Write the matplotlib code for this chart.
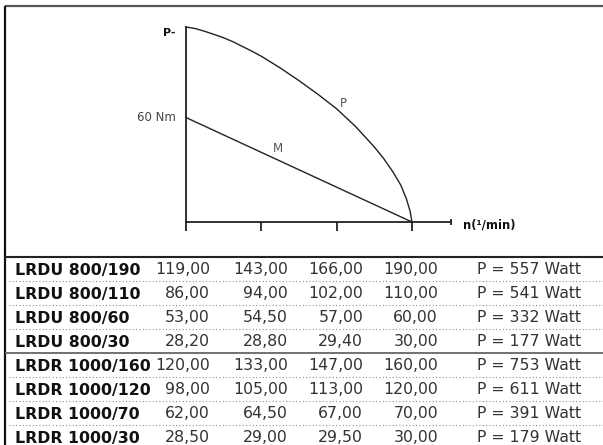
import matplotlib
matplotlib.use("Agg")
import matplotlib.pyplot as plt

# ---- diagram data (schematic) ----
n_ticks = [0, 1, 2, 3]
p_n = [0, 0.125, 0.25, 0.375, 0.5, 0.625, 0.75, 0.875, 1.0, 1.25, 1.5, 1.75,
       2.0, 2.25, 2.5, 2.625, 2.75, 2.85, 2.925, 2.975, 3.0]
p_val = [112, 111.1, 109.5, 107.7, 105.8, 103.5, 100.8, 98.1, 95.2, 88.5, 81.2,
         73.4, 65.0, 54.9, 43.1, 36.4, 28.6, 21.3, 13.4, 6.2, 0]
m_n = [0, 3]
m_val = [60, 0]

# ---- table data ----
models = ["LRDU 800/190", "LRDU 800/110", "LRDU 800/60", "LRDU 800/30",
          "LRDR 1000/160", "LRDR 1000/120", "LRDR 1000/70", "LRDR 1000/30"]
col1 = [119.00, 86.00, 53.00, 28.20, 120.00, 98.00, 62.00, 28.50]
col2 = [143.00, 94.00, 54.50, 28.80, 133.00, 105.00, 64.50, 29.00]
col3 = [166.00, 102.00, 57.00, 29.40, 147.00, 113.00, 67.00, 29.50]
col4 = [190.00, 110.00, 60.00, 30.00, 160.00, 120.00, 70.00, 30.00]
power = [557, 541, 332, 177, 753, 611, 391, 179]

W, H = 603, 445
fig = plt.figure(figsize=(W / 100, H / 100), dpi=100)
plt.rcParams['font.family'] = ['DejaVu Sans']

# full-figure overlay in pixel coordinates for frame + table
bg = fig.add_axes([0, 0, 1, 1])
bg.set_xlim(0, W)
bg.set_ylim(H, 0)
bg.axis("off")

# outer frame
bg.plot([5, W], [6, 6], color="#555555", lw=1.6, solid_capstyle="butt")
bg.plot([5, 5], [6, H], color="#111111", lw=1.6, solid_capstyle="butt")
# table top line
bg.plot([5, W], [256.5, 256.5], color="#222222", lw=1.5, solid_capstyle="butt")

# ---- diagram ----
x_max = 3.518
ax = fig.add_axes([186 / W, (H - 222) / H, (451 - 186) / W, 195 / H])
ax.set_xlim(0, x_max)
ax.set_ylim(0, 112)
ax.patch.set_alpha(0)
for s in ["top", "right"]:
    ax.spines[s].set_visible(False)
for s in ["left", "bottom"]:
    ax.spines[s].set_linewidth(1.3)
    ax.spines[s].set_color("#222222")
ax.set_xticks(n_ticks)
ax.set_xticklabels([])
ax.set_yticks([])
ax.tick_params(axis="x", direction="out", length=6.5, width=1.3, color="#222222")

ax.plot(p_n, p_val, color="#222222", lw=1.0, clip_on=False)
ax.plot(m_n, m_val, color="#222222", lw=1.0, clip_on=False)
ax.plot([x_max], [0], marker="|", ms=5, mew=1.3, color="#222222", clip_on=False)

ax.annotate("P-", xy=(0, 108.5), xytext=(-11, 0), textcoords="offset pixels",
            ha="right", va="center", fontsize=8, fontweight="bold", color="#111111")
ax.annotate("60 Nm", xy=(0, 60), xytext=(-10, 0), textcoords="offset pixels",
            ha="right", va="center", fontsize=8.5, color="#444444")
ax.text(2.084, 68.3, "P", ha="center", va="center", fontsize=8.5, color="#555555")
ax.text(1.221, 42.5, "M", ha="center", va="center", fontsize=8.5, color="#555555")
ax.annotate("n(\u00b9/min)", xy=(x_max, 0), xytext=(12, -3), textcoords="offset pixels",
            ha="left", va="center", fontsize=8.3, fontweight="bold", color="#111111")

# ---- table ----
row_top = 257
row_h = 24
fs = 11.3
def fmt(v):
    return f"{v:.2f}".replace(".", ",")

col_right = [210, 288, 363, 438]
for i, name in enumerate(models):
    yc = row_top + 13 + i * row_h
    bg.text(15, yc, name, ha="left", va="center", fontsize=fs,
            fontweight="bold", color="#111111")
    for cx, vals in zip(col_right, [col1, col2, col3, col4]):
        bg.text(cx, yc, fmt(vals[i]), ha="right", va="center", fontsize=fs,
                color="#333333")
    bg.text(477, yc, f"P = {power[i]} Watt", ha="left", va="center",
            fontsize=fs, color="#333333")
    ysep = row_top + (i + 1) * row_h
    if i == 3:
        bg.plot([5, W], [ysep, ysep], color="#666666", lw=1.3, solid_capstyle="butt")
    elif i < len(models) - 1:
        bg.plot([9, W], [ysep, ysep], color="#777777", lw=0.8,
                linestyle=(0, (0.8, 2.2)))

fig.savefig("out.png", dpi=100)
